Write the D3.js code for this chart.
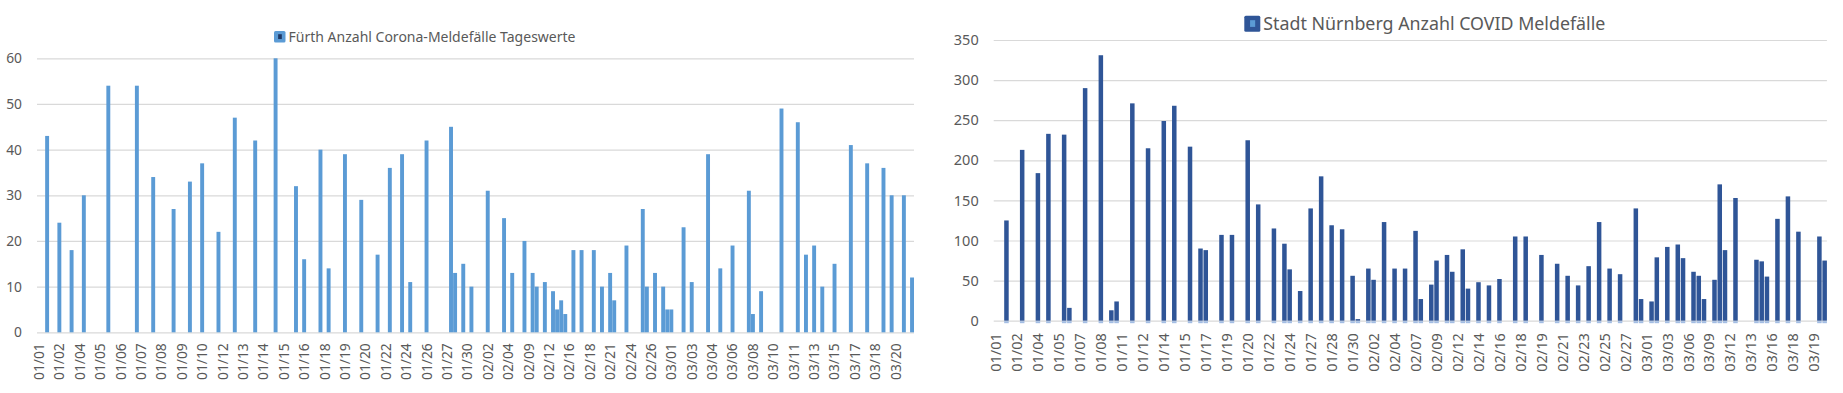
<!DOCTYPE html>
<html>
<head>
<meta charset="utf-8">
<script src="https://cdn.jsdelivr.net/npm/d3@7"></script>
<style>
  body { margin: 0; background: #fff; }
  svg { display: block; font-family: "Noto Sans", sans-serif; }
</style>
</head>
<body>
<svg width="1843" height="393"></svg>
<script>
// Fürth: one row per report, only every 5th row gets a label
const furthTicks = ["01/01", "01/02", "01/04", "01/05", "01/06", "01/07", "01/08", "01/09", "01/10", "01/12",
  "01/13", "01/14", "01/15", "01/16", "01/18", "01/19", "01/20", "01/22", "01/24", "01/26", "01/27", "01/30",
  "02/02", "02/04", "02/09", "02/12", "02/16", "02/18", "02/21", "02/24", "02/26", "03/01", "03/03", "03/04",
  "03/06", "03/08", "03/10", "03/11", "03/13", "03/15", "03/17", "03/18", "03/20"];
const furthRowCount = 215;
const furthRows = [2, 5, 8, 11, 17, 24, 28, 33, 37, 40, 44, 48, 53, 58, 63, 65, 69, 71, 75, 79, 83, 86, 89, 91, 95,
  101, 102, 104, 106, 110, 114, 116, 119, 121, 122, 124, 126, 127, 128, 129, 131, 133, 136, 138, 140, 141, 144,
  148, 149, 151, 153, 154, 155, 158, 160, 164, 167, 170, 174, 175, 177, 182, 186, 188, 190, 192, 195, 199, 203,
  207, 209, 212, 214];
const furthValues = [43, 24, 18, 30, 54, 54, 34, 27, 33, 37, 22, 47, 42, 60, 32, 16, 40, 14, 39, 29, 17, 36, 39, 11, 42,
  45, 13, 15, 10, 31, 25, 13, 20, 13, 10, 11, 9, 5, 7, 4, 18, 18, 18, 10, 13, 7, 19,
  27, 10, 13, 10, 5, 5, 23, 11, 39, 14, 19, 31, 4, 9, 49, 46, 17, 19, 10, 15, 41, 37,
  36, 30, 30, 12];

// Nürnberg: every 4th row labelled
const nbgTicks = ["01/01", "01/02", "01/04", "01/05", "01/07", "01/08", "01/11", "01/12", "01/14", "01/15",
  "01/17", "01/19", "01/20", "01/22", "01/24", "01/27", "01/28", "01/30", "02/02", "02/04", "02/07", "02/09",
  "02/12", "02/14", "02/16", "02/18", "02/19", "02/21", "02/23", "02/25", "02/27", "03/01", "03/03", "03/06",
  "03/09", "03/12", "03/13", "03/16", "03/18", "03/19"];
const nbgRowCount = 159;
const nbgRows = [2, 5, 8, 10, 13, 14, 17, 20, 22, 23, 26, 29, 32, 34, 37, 39, 40, 43, 45, 48, 50, 53, 55, 56, 58,
  60, 62, 64, 66, 68, 69, 71, 72, 74, 76, 78, 80, 81, 83, 84, 86, 87, 89, 90, 92, 94, 96, 99, 101, 104, 107,
  109, 111, 113, 115, 117, 119, 122, 123, 125, 126, 128, 130, 131, 133, 134, 135, 137, 138, 139, 141, 145, 146,
  147, 149, 151, 153, 157, 158];
const nbgValues = [125, 213, 184, 233, 232, 16, 290, 331, 13, 24, 271, 215, 249, 268, 217, 90, 88, 107, 107, 225, 145, 115, 96, 64, 37,
  140, 180, 119, 114, 56, 2, 65, 51, 123, 65, 65, 112, 27, 45, 75, 82, 61, 89, 40, 48, 44, 52, 105, 105, 82, 71,
  56, 44, 68, 123, 65, 58, 140, 27, 24, 79, 92, 95, 78, 61, 56, 27, 51, 170, 88, 153, 76, 74,
  55, 127, 155, 111, 105, 75];

const svg = d3.select("svg");
const textColor = "#595959";

function drawChart(opt) {
  const x = d3.scaleBand()
    .domain(d3.range(opt.rowCount))
    .range([opt.left, opt.right])
    .paddingInner(opt.pad);
  const y = d3.scaleLinear().domain([0, opt.yMax]).range([opt.bottom, opt.top]);

  const g = svg.append("g");

  // gridlines and value labels
  const yAxis = g.append("g")
    .attr("transform", `translate(${opt.left},0)`)
    .call(d3.axisLeft(y)
      .tickValues(d3.range(0, opt.yMax + 1, opt.yStep))
      .tickSize(-(opt.right - opt.left))
      .tickPadding(15));
  yAxis.attr("font-family", null).attr("font-size", opt.fontSize);
  yAxis.select(".domain").remove();
  yAxis.selectAll(".tick line").attr("stroke", "#d9d9d9").attr("stroke-width", 1.2);
  yAxis.selectAll(".tick text").attr("fill", textColor);

  // date labels, rotated
  const xAxis = g.append("g")
    .attr("transform", `translate(0,${opt.bottom})`)
    .call(d3.axisBottom(x)
      .tickValues(opt.ticks.map((t, i) => i * opt.every))
      .tickFormat((d) => opt.ticks[d / opt.every])
      .tickSize(0));
  xAxis.attr("font-family", null).attr("font-size", opt.fontSize);
  xAxis.select(".domain").remove();
  xAxis.selectAll(".tick text")
    .attr("fill", textColor)
    .attr("transform", "rotate(-90)")
    .attr("x", -opt.labelGap)
    .attr("y", 0)
    .attr("dy", "0.36em")
    .style("text-anchor", "end");

  const data = d3.zip(opt.rows, opt.values);

  g.append("g")
    .selectAll("rect")
    .data(data)
    .enter()
    .append("rect")
    .attr("x", (d) => x(d[0]))
    .attr("width", x.bandwidth())
    .attr("y", (d) => y(d[1]))
    .attr("height", (d) => y(0) - y(d[1]))
    .attr("fill", opt.color);

  if (opt.footColor) {
    g.append("g")
      .selectAll("rect")
      .data(data)
      .enter()
      .append("rect")
      .attr("x", (d) => x(d[0]))
      .attr("width", x.bandwidth())
      .attr("y", y(0) + 0.5)
      .attr("height", 2)
      .attr("fill", opt.footColor);
  }

  // legend
  const lg = g.append("g");
  lg.append("rect")
    .attr("x", opt.legend.x)
    .attr("y", opt.legend.y)
    .attr("width", opt.legend.size)
    .attr("height", opt.legend.size)
    .attr("rx", 1.5)
    .attr("fill", opt.legend.outer);
  lg.append("rect")
    .attr("x", opt.legend.x + opt.legend.size * 0.36)
    .attr("y", opt.legend.y + opt.legend.size * 0.28)
    .attr("width", opt.legend.size * 0.32)
    .attr("height", opt.legend.size * 0.42)
    .attr("fill", opt.legend.inner);
  lg.append("text")
    .attr("x", opt.legend.textX)
    .attr("y", opt.legend.baseline)
    .attr("fill", textColor)
    .attr("font-size", opt.legend.fontSize)
    .attr("textLength", opt.legend.textWidth)
    .attr("lengthAdjust", "spacingAndGlyphs")
    .text(opt.title);
}

drawChart({
  rowCount: furthRowCount, rows: furthRows, values: furthValues, ticks: furthTicks, every: 5,
  left: 37, right: 914, top: 58.3, bottom: 332.3, yMax: 60, yStep: 10, pad: 0.04,
  color: "#5b9bd5", fontSize: 13.8, labelGap: 11,
  title: "Fürth Anzahl Corona-Meldefälle Tageswerte",
  legend: { x: 274, y: 31, size: 11.5, outer: "#5b9bd5", inner: "#203864",
    textX: 288.5, baseline: 42.3, fontSize: 15, textWidth: 287 }
});

drawChart({
  rowCount: nbgRowCount, rows: nbgRows, values: nbgValues, ticks: nbgTicks, every: 4,
  left: 993.7, right: 1826.9, top: 40, bottom: 320.7, yMax: 350, yStep: 50, pad: 0.14,
  color: "#2f5597", footColor: "#a3bde3", fontSize: 14.5, labelGap: 12.5,
  title: "Stadt Nürnberg Anzahl COVID Meldefälle",
  legend: { x: 1244.3, y: 15.7, size: 16, outer: "#2f5597", inner: "#5b9bd5",
    textX: 1263.3, baseline: 30, fontSize: 18.5, textWidth: 342 }
});
</script>
</body>
</html>
